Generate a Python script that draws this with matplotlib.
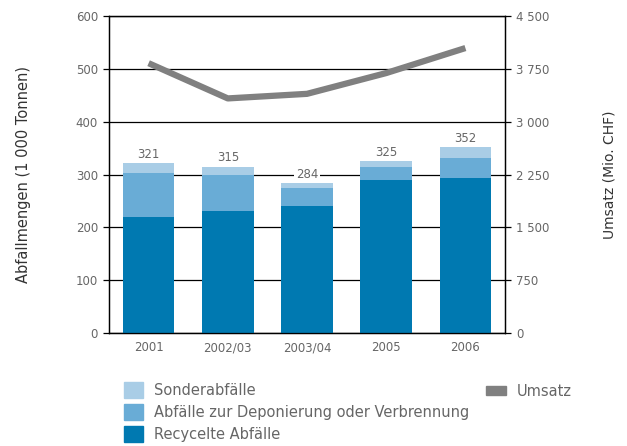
import matplotlib.pyplot as plt
from matplotlib.patches import Patch
from matplotlib.ticker import FuncFormatter

categories = ['2001', '2002/03', '2003/04', '2005', '2006']
recycelt = [220, 231, 241, 290, 294]
deponie = [83, 69, 34, 25, 38]
sonder = [18, 15, 9, 10, 20]
totals = [321, 315, 284, 325, 352]
umsatz = [3830, 3330, 3395, 3690, 4045]

c_dark = '#0079b1'
c_mid = '#69acd6'
c_light = '#a9cde6'
c_line = '#808080'
c_text = '#666666'

plt.rcParams['font.family'] = ['DejaVu Sans']

fig = plt.figure(figsize=(6.27, 4.46), dpi=100)
ax = fig.add_axes([109 / 627, 1 - 333 / 446, 396 / 627, 317 / 446])

x = range(len(categories))
w = 0.65
ax.bar(x, recycelt, w, color=c_dark, zorder=3)
bottom2 = [a for a in recycelt]
ax.bar(x, deponie, w, bottom=bottom2, color=c_mid, zorder=3)
bottom3 = [a + b for a, b in zip(recycelt, deponie)]
ax.bar(x, sonder, w, bottom=bottom3, color=c_light, zorder=3)

for i, t in enumerate(totals):
    ax.text(i, t + 4, str(t), ha='center', va='bottom', fontsize=8.5, color=c_text,
            zorder=4, bbox=dict(facecolor='white', edgecolor='none', pad=1.5))

ax.set_xlim(-0.5, 4.5)
ax.set_ylim(0, 600)
ax.set_yticks(range(0, 601, 100))
ax.yaxis.grid(True, color='black', linewidth=0.9, zorder=1)
ax.set_axisbelow(True)
ax.set_xticks(list(x))
ax.set_xticklabels(categories)
ax.tick_params(axis='x', length=0, pad=6, labelsize=8.5, labelcolor=c_text)
ax.tick_params(axis='y', length=4, width=0.9, labelsize=8.5, labelcolor=c_text, pad=4)
for s in ax.spines.values():
    s.set_linewidth(0.9)
ax.set_ylabel('Abfallmengen (1 000 Tonnen)', fontsize=10.5, color='#333333', labelpad=32)

ax2 = ax.twinx()
ax2.plot(list(x), umsatz, color=c_line, linewidth=4.5, solid_capstyle='butt', zorder=5)
ax2.set_ylim(0, 4500)
ax2.set_yticks(range(0, 4501, 750))
ax2.yaxis.set_major_formatter(FuncFormatter(lambda v, p: f'{int(v):,}'.replace(',', ' ')))
ax2.tick_params(axis='y', length=4, width=0.9, labelsize=8.5, labelcolor=c_text, pad=4)
for s in ax2.spines.values():
    s.set_linewidth(0.9)
ax2.set_ylabel('Umsatz (Mio. CHF)', fontsize=10, color='#333333', labelpad=38)

handles = [Patch(color=c_light, label='Sonderabfälle'),
           Patch(color=c_mid, label='Abfälle zur Deponierung oder Verbrennung'),
           Patch(color=c_dark, label='Recycelte Abfälle')]
fig.legend(handles=handles, loc='upper left', bbox_to_anchor=(124 / 627, 1 - 382 / 446),
           frameon=False, fontsize=10.5, labelcolor=c_text, handlelength=1.3, handleheight=1.3,
           handletextpad=0.75, labelspacing=0.42, borderaxespad=0, borderpad=0)
fig.legend(handles=[Patch(color=c_line, label='Umsatz')], loc='upper left',
           bbox_to_anchor=(486 / 627, 1 - 384 / 446), frameon=False, fontsize=10.5,
           labelcolor=c_text, handlelength=1.4, handleheight=0.55, handletextpad=0.7,
           borderaxespad=0, borderpad=0)

fig.savefig('out.png', dpi=100)
